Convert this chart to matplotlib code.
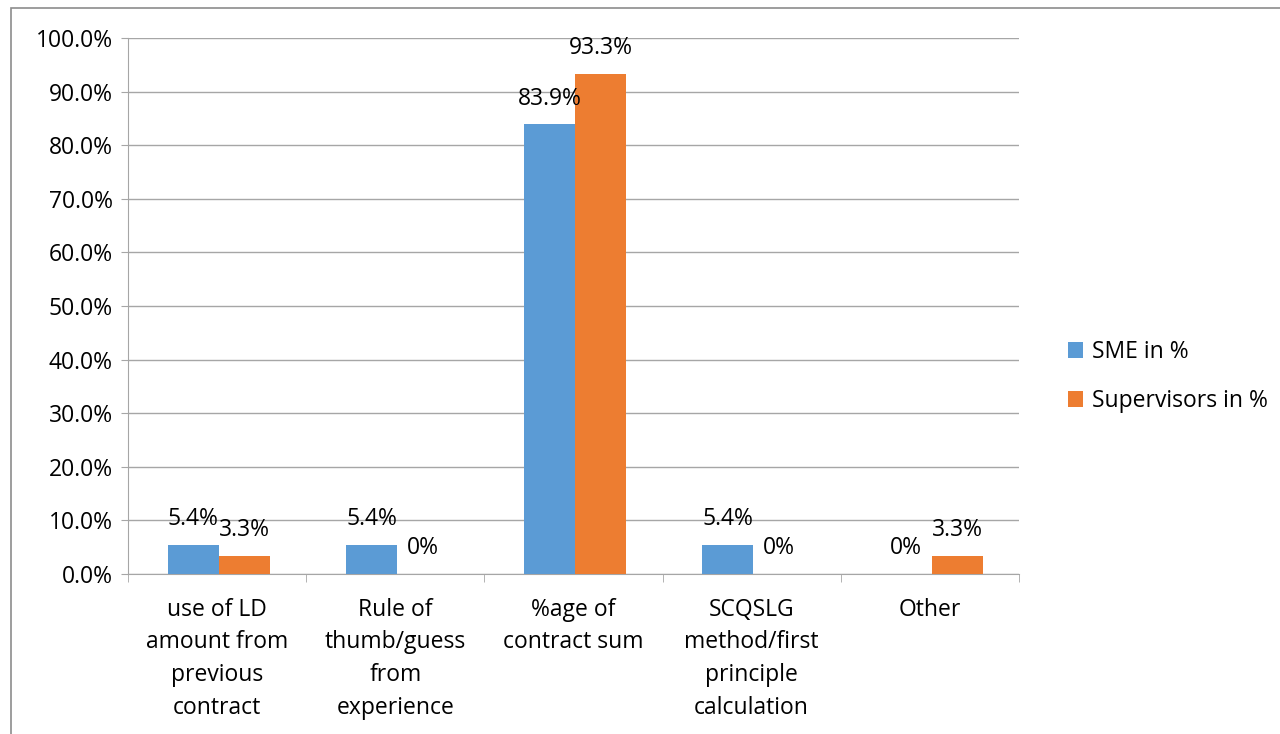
import numpy as np
import matplotlib
matplotlib.use('Agg')
from matplotlib import pyplot as plt
from matplotlib.patches import Rectangle

categories = ['use of LD\namount from\nprevious\ncontract',
              'Rule of\nthumb/guess\nfrom\nexperience',
              '%age of\ncontract sum',
              'SCQSLG\nmethod/first\nprinciple\ncalculation',
              'Other']
sme = [5.4, 5.4, 83.9, 5.4, 0]
supervisors = [3.3, 0, 93.3, 0, 3.3]
sme_labels = ['5.4%', '5.4%', '83.9%', '5.4%', '0%']
sup_labels = ['3.3%', '0%', '93.3%', '0%', '3.3%']
series_names = ['SME in %', 'Supervisors in %']
yticks = np.arange(0, 101, 10)

plt.rcParams['font.family'] = ['Open Sans', 'DejaVu Sans']
fs = 16.5

fig = plt.figure(figsize=(12.8, 7.34), dpi=100)
ax = fig.add_axes([0.1, 0.218, 0.696, 0.730])

x = np.arange(len(categories))
w = 0.287
b1 = ax.bar(x - w / 2 + 0.01, sme, w, color='#5B9BD5', label=series_names[0], zorder=3)
b2 = ax.bar(x + w / 2 + 0.01, supervisors, w, color='#ED7D31', label=series_names[1], zorder=3)

for bars, labels in [(b1, sme_labels), (b2, sup_labels)]:
    for rect, lab in zip(bars, labels):
        ax.annotate(lab, (rect.get_x() + rect.get_width() / 2, rect.get_height()),
                    xytext=(0, 10), textcoords='offset points', ha='center', va='bottom', fontsize=fs)

ax.set_xlim(-0.5, len(categories) - 0.5)
ax.set_ylim(0, 100)
ax.set_yticks(yticks)
ax.set_yticklabels([f'{v:.1f}%' for v in yticks], fontsize=fs)
ax.yaxis.grid(True, color='#a6a6a6', linewidth=1, zorder=0)
ax.set_axisbelow(True)

ax.set_xticks(x)
ax.set_xticklabels(categories, fontsize=fs, linespacing=1.48)
ax.set_xticks(np.arange(-0.5, len(categories)), minor=True)
ax.tick_params(axis='x', which='major', length=0, pad=17)
ax.tick_params(axis='x', which='minor', length=6, color='#a6a6a6', direction='out')
ax.tick_params(axis='y', length=5, color='#a6a6a6', pad=6)

for s in ['top', 'right']:
    ax.spines[s].set_visible(False)
for s in ['left', 'bottom']:
    ax.spines[s].set_color('#a6a6a6')

ax.legend(loc='center left', bbox_to_anchor=(0.818, 0.487), bbox_transform=fig.transFigure,
          frameon=False, fontsize=fs, handlelength=0.65, handleheight=0.65,
          handletextpad=0.4, labelspacing=1.1)

fig.patches.append(Rectangle((0.0086, -0.1), 1.2, 1.089, transform=fig.transFigure,
                             fill=False, edgecolor='#8c8c8c', linewidth=1.2))

fig.savefig('out.png', dpi=100)
